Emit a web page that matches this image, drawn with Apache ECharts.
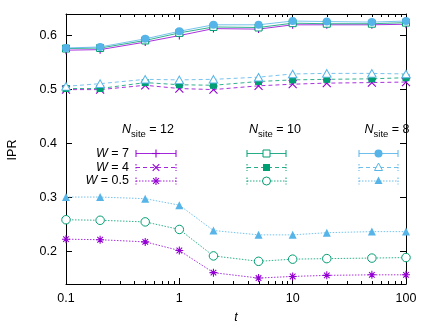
<!DOCTYPE html>
<html><head><meta charset="utf-8">
<script src="https://cdn.jsdelivr.net/npm/echarts@6/dist/echarts.min.js"></script>
<style>html,body{margin:0;padding:0;background:#fff}#c{width:436px;height:328px}</style>
</head><body><div id="c"></div>
<script>
// ---------------- data ----------------
const tValues = [0.1, 0.2, 0.5, 1, 2, 5, 10, 20, 50, 100];

const ipr_W7_N12 = [0.573, 0.574, 0.588, 0.600, 0.613, 0.612, 0.620, 0.620, 0.620, 0.621];
const ipr_W7_N10 = [0.576, 0.577, 0.591, 0.605, 0.616, 0.615, 0.623, 0.622, 0.622, 0.624];
const ipr_W7_N8  = [0.577, 0.579, 0.594, 0.608, 0.620, 0.620, 0.627, 0.626, 0.625, 0.627];

const ipr_W4_N12 = [0.500, 0.500, 0.508, 0.502, 0.500, 0.507, 0.510, 0.512, 0.513, 0.514];
const ipr_W4_N10 = [0.502, 0.502, 0.513, 0.509, 0.508, 0.515, 0.518, 0.519, 0.520, 0.522];
const ipr_W4_N8  = [0.506, 0.511, 0.519, 0.518, 0.519, 0.523, 0.529, 0.530, 0.530, 0.529];

const ipr_W05_N12 = [0.223, 0.222, 0.218, 0.202, 0.161, 0.151, 0.154, 0.156, 0.157, 0.157];
const ipr_W05_N10 = [0.259, 0.258, 0.255, 0.241, 0.192, 0.182, 0.186, 0.187, 0.188, 0.189];
const ipr_W05_N8  = [0.301, 0.301, 0.298, 0.286, 0.239, 0.231, 0.231, 0.235, 0.237, 0.237];

const nsiteLabels = ['12', '10', '8'];
const wLabels = ['7', '4', '0.5'];
const xMinorTicks = [0.2,0.3,0.4,0.5,0.6,0.7,0.8,0.9, 2,3,4,5,6,7,8,9, 20,30,40,50,60,70,80,90];

// ---------------- style ----------------
const PURPLE = '#9400d3', GREEN = '#009e73', BLUE = '#56b4e9';
const FONT = '"Liberation Sans", Arial, sans-serif';
const FS = 12.5;
const colColors = [PURPLE, GREEN, BLUE];
const rowDash = ['solid', [4, 3], [1.5, 1.5]];
const markerKinds = [
  ['plus', 'emptyRect', 'circle'],
  ['cross', 'rect', 'emptyTriangle'],
  ['star', 'emptyCircle', 'triangle']
];
const seriesData = [
  [ipr_W7_N12, ipr_W7_N10, ipr_W7_N8],
  [ipr_W4_N12, ipr_W4_N10, ipr_W4_N8],
  [ipr_W05_N12, ipr_W05_N10, ipr_W05_N8]
];

const strokeSymbols = {
  plus: 'path://M0,5L10,5M5,0L5,10',
  cross: 'path://M1,1L9,9M1,9L9,1',
  star: 'path://M0,5L10,5M5,0L5,10M1.5,1.5L8.5,8.5M1.5,8.5L8.5,1.5'
};
const openSymbols = {
  emptyCircle: 'path://M10,5A5,5,0,1,1,0,5A5,5,0,1,1,10,5Z',
  emptyRect: 'path://M0,0L10,0L10,10L0,10Z',
  emptyTriangle: 'path://M5,0L10,8.66L0,8.66Z'
};

function seriesFor(r, c) {
  const kind = markerKinds[r][c];
  const color = colColors[c];
  let symbol = kind, itemStyle, size = 7;
  if (strokeSymbols[kind]) {
    symbol = strokeSymbols[kind];
    itemStyle = { color: 'rgba(0,0,0,0)', borderColor: color, borderWidth: 1.1 };
    size = 8;
  } else if (openSymbols[kind]) {
    symbol = openSymbols[kind];
    itemStyle = { color: '#fff', borderColor: color, borderWidth: 1 };
    size = kind === 'emptyCircle' ? [8.5, 8.5] : (kind === 'emptyTriangle' ? [8.5, 7.5] : [7, 7]);
  } else {
    itemStyle = { color: color, borderWidth: 0 };
    size = kind === 'circle' ? 8 : (kind === 'triangle' ? 8 : 7);
  }
  return {
    type: 'line',
    xAxisIndex: 0, yAxisIndex: 0,
    data: tValues.map((t, i) => [t, seriesData[r][c][i]]),
    symbol: symbol, symbolSize: size, showAllSymbol: true,
    lineStyle: { color: color, width: 1, type: rowDash[r], opacity: 0.8 },
    itemStyle: itemStyle,
    emphasis: { disabled: true },
    z: 3, silent: true, animation: false
  };
}

const series = [];
for (let r = 0; r < 3; r++) for (let c = 0; c < 3; c++) series.push(seriesFor(r, c));

// minor ticks on log axis (bottom and top), placed through the axis scale
series.push({
  type: 'custom', xAxisIndex: 0, yAxisIndex: 0, silent: true, clip: false, z: 5,
  data: xMinorTicks.map(v => [v, 0.4]),
  renderItem: function (params, api) {
    const x = Math.round(api.coord([api.value(0), 0.4])[0]) + 0.5;
    const cs = params.coordSys;
    const yb = cs.y + cs.height, yt = cs.y;
    return { type: 'group', children: [
      { type: 'line', shape: { x1: x, y1: yb, x2: x, y2: yb - 3 }, style: { stroke: '#000', lineWidth: 1 } },
      { type: 'line', shape: { x1: x, y1: yt, x2: x, y2: yt + 3 }, style: { stroke: '#000', lineWidth: 1 } }
    ] };
  }
});

// ---------------- legend (graphic) ----------------
const legendCols = [[136, 176], [247, 286], [359, 398]];
const legendRows = [153.5, 167.5, 181];
const graphics = [];

function lineEl(x1, y1, x2, y2, color, dash, w, op) {
  return { type: 'line', shape: { x1, y1, x2, y2 },
    style: { stroke: color, lineWidth: w || 1, lineDash: dash === 'solid' ? null : dash, opacity: op == null ? 1 : op } };
}
function markerEls(kind, cx, cy, color) {
  const out = [];
  const s = 4;
  if (kind === 'plus' || kind === 'star') {
    out.push(lineEl(cx - s, cy, cx + s, cy, color, 'solid', 1.1));
    out.push(lineEl(cx, cy - s, cx, cy + s, color, 'solid', 1.1));
  }
  if (kind === 'cross' || kind === 'star') {
    const d = kind === 'star' ? 2.9 : 3.3;
    out.push(lineEl(cx - d, cy - d, cx + d, cy + d, color, 'solid', 1.1));
    out.push(lineEl(cx - d, cy + d, cx + d, cy - d, color, 'solid', 1.1));
  }
  if (kind === 'rect' || kind === 'emptyRect') {
    out.push({ type: 'rect', shape: { x: cx - 3.5, y: cy - 3.5, width: 7, height: 7 },
      style: kind === 'rect' ? { fill: color } : { fill: '#fff', stroke: color, lineWidth: 1 } });
  }
  if (kind === 'circle' || kind === 'emptyCircle') {
    out.push({ type: 'circle', shape: { cx, cy, r: kind === 'circle' ? 4 : 4 },
      style: kind === 'circle' ? { fill: color } : { fill: '#fff', stroke: color, lineWidth: 1 } });
  }
  if (kind === 'triangle' || kind === 'emptyTriangle') {
    out.push({ type: 'polygon', shape: { points: [[cx, cy - 4.5], [cx + 4, cy + 3], [cx - 4, cy + 3]] },
      style: kind === 'triangle' ? { fill: color } : { fill: '#fff', stroke: color, lineWidth: 1 } });
  }
  return out;
}

for (let r = 0; r < 3; r++) {
  for (let c = 0; c < 3; c++) {
    const [x1, x2] = legendCols[c];
    const y = legendRows[r];
    const color = colColors[c];
    const dash = rowDash[r];
    graphics.push(lineEl(x1, y, x2, y, color, dash, 1, 0.85));
    graphics.push(lineEl(x1, y - 3.5, x1, y + 3.5, color, dash === 'solid' ? 'solid' : [1.5, 1.5], 1));
    graphics.push(lineEl(x2, y - 3.5, x2, y + 3.5, color, dash === 'solid' ? 'solid' : [1.5, 1.5], 1));
    markerEls(markerKinds[r][c], (x1 + x2) / 2, y, color).forEach(e => graphics.push(e));
  }
  graphics.push({ type: 'text', x: 129, y: legendRows[r],
    style: { text: '{w|W} = ' + wLabels[r], align: 'right', verticalAlign: 'middle',
      fontFamily: FONT, fontSize: FS, fill: '#000',
      rich: { w: { fontStyle: 'italic', fontFamily: FONT, fontSize: FS, fill: '#000' } } } });
}
const headerX = [148, 275, 387];
for (let c = 0; c < 3; c++) {
  graphics.push({ type: 'text', x: headerX[c], y: 131,
    style: { text: '{n|N}{s|site}{e| = ' + nsiteLabels[c] + '}', align: 'center', verticalAlign: 'middle',
      fill: '#000',
      rich: {
        n: { fontStyle: 'italic', fontFamily: FONT, fontSize: FS, lineHeight: 16, verticalAlign: 'top' },
        s: { fontFamily: FONT, fontSize: 9.5, lineHeight: 16, verticalAlign: 'bottom', padding: [6, 0, 0, 0] },
        e: { fontFamily: FONT, fontSize: FS, lineHeight: 16, verticalAlign: 'top' }
      } } });
}
// axis titles
graphics.push({ type: 'text', x: 13, y: 150, rotation: Math.PI / 2,
  style: { text: 'IPR', align: 'center', verticalAlign: 'middle', fontFamily: FONT, fontSize: FS, fill: '#000' } });
graphics.push({ type: 'text', x: 236, y: 318,
  style: { text: 't', align: 'center', verticalAlign: 'middle', fontFamily: FONT, fontSize: FS, fontStyle: 'italic', fill: '#000' } });

// ---------------- chart ----------------
const axisLine = { show: true, onZero: false, lineStyle: { color: '#000', width: 1 } };
const option = {
  animation: false,
  backgroundColor: '#fff',
  grid: { left: 66, right: 30, top: 14, bottom: 44, containLabel: false },
  xAxis: [
    { type: 'log', logBase: 10, min: 0.1, max: 100, position: 'bottom',
      axisLine: axisLine,
      axisTick: { show: true, inside: true, length: 6, lineStyle: { color: '#000' } },
      axisLabel: { color: '#000', fontFamily: FONT, fontSize: FS, margin: 8,
        formatter: v => String(Number(v.toPrecision(3))) },
      splitLine: { show: false } },
    { type: 'log', logBase: 10, min: 0.1, max: 100, position: 'top',
      axisLine: axisLine,
      axisTick: { show: true, inside: true, length: 6, lineStyle: { color: '#000' } },
      axisLabel: { show: false }, splitLine: { show: false } }
  ],
  yAxis: [
    { type: 'value', min: 0.14, max: 0.64, splitNumber: 5, position: 'left',
      axisLine: axisLine,
      axisTick: { show: true, inside: true, length: 6, lineStyle: { color: '#000' } },
      axisLabel: { color: '#000', fontFamily: FONT, fontSize: FS, margin: 9,
        showMinLabel: false, showMaxLabel: false,
        formatter: v => (Math.abs(v * 10 - Math.round(v * 10)) < 1e-6 ? v.toFixed(1) : '') },
      splitLine: { show: false } },
    { type: 'value', min: 0.14, max: 0.64, splitNumber: 5, position: 'right',
      axisLine: axisLine,
      axisTick: { show: true, inside: true, length: 6, lineStyle: { color: '#000' } },
      axisLabel: { show: false }, splitLine: { show: false } }
  ],
  series: series,
  graphic: graphics
};
const chart = echarts.init(document.getElementById('c'), null, { renderer: 'canvas' });
chart.setOption(option);
</script>
</body></html>
